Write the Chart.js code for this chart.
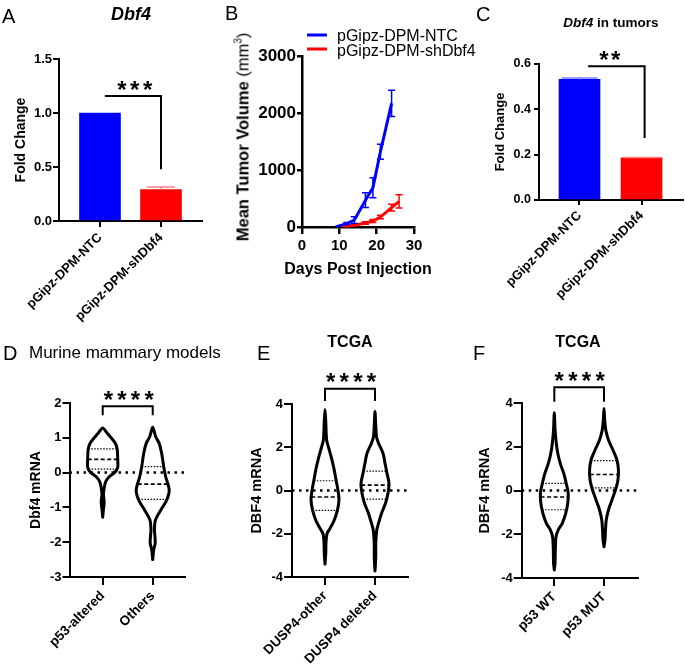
<!DOCTYPE html>
<html>
<head>
<meta charset="utf-8">
<script src="https://cdn.jsdelivr.net/npm/chart.js@4.4.1/dist/chart.umd.min.js"></script>
<style>
  body { margin: 0; background: #fff; width: 685px; height: 664px; position: relative; overflow: hidden;
         font-family: 'Liberation Sans', Arial, sans-serif; color: #000; }
  canvas { position: absolute; }
  .lbl { position: absolute; line-height: 1; white-space: nowrap; }
  .mid { transform: translateX(-50%); }
</style>
</head>
<body>
<canvas id="chartA" width="220" height="330" style="left:0;top:0"></canvas>
<canvas id="chartB" width="290" height="300" style="left:220px;top:0"></canvas>
<canvas id="chartC" width="195" height="330" style="left:490px;top:0"></canvas>
<canvas id="chartD" width="225" height="334" style="left:0;top:330px"></canvas>
<canvas id="chartE" width="225" height="334" style="left:230px;top:330px"></canvas>
<canvas id="chartF" width="230" height="334" style="left:455px;top:330px"></canvas>

<div class="lbl" style="left:2px;top:6px;font-size:20px">A</div>
<div class="lbl" style="left:225px;top:3px;font-size:20px">B</div>
<div class="lbl" style="left:476px;top:4px;font-size:20px">C</div>
<div class="lbl" style="left:3px;top:343px;font-size:20px">D</div>
<div class="lbl" style="left:257px;top:343px;font-size:20px">E</div>
<div class="lbl" style="left:473px;top:343px;font-size:20px">F</div>

<div class="lbl mid" style="left:131px;top:5px;font-size:18px;font-weight:bold;font-style:italic">Dbf4</div>
<div class="lbl mid" style="left:611px;top:15.5px;font-size:13.5px;font-weight:bold"><i>Dbf4</i> in tumors</div>
<div class="lbl" style="left:29px;top:343.5px;font-size:17px">Murine mammary models</div>
<div class="lbl mid" style="left:350px;top:333.5px;font-size:16px;font-weight:bold">TCGA</div>
<div class="lbl mid" style="left:578px;top:333.5px;font-size:16px;font-weight:bold">TCGA</div>
<div class="lbl" style="left:242px;top:137px;font-size:16.5px;transform:translate(-50%,-50%) rotate(-90deg)"><b>Mean Tumor Volume</b> (mm<sup style="font-size:10px">3</sup>)</div>
<div class="lbl mid" style="left:358px;top:261px;font-size:16px;font-weight:bold">Days Post Injection</div>

<script>
const SANS = "'Liberation Sans', Arial, sans-serif"
Chart.defaults.font.family = SANS
Chart.defaults.color = '#000'

// ---- A / C : qPCR fold change ----
const cellLines = ['pGipz-DPM-NTC', 'pGipz-DPM-shDbf4']
const dbf4Fold = [1.0, 0.29]
const dbf4FoldErr = [0, 0.025]
const foldTicksA = [0, 0.5, 1.0, 1.5]
const tumorFold = [0.532, 0.186]
const tumorFoldErr = [0.006, 0.002]
const foldTicksC = [0, 0.2, 0.4, 0.6]

// ---- B : tumor growth ----
const ntcDays = [9, 12, 14, 17, 19, 21, 24]
const ntcVolume = [0, 60, 120, 470, 690, 1320, 2170]
const ntcSem = [0, 20, 60, 130, 175, 130, 230]
const shDays = [10, 12, 14, 17, 19, 21, 24, 26]
const shVolume = [0, 10, 30, 70, 105, 175, 340, 450]
const shSem = [0, 5, 10, 20, 25, 30, 60, 115]
const volumeTicks = [0, 1000, 2000, 3000]
const dayTicks = [0, 10, 20, 30]

// ---- D : murine models (violin profile: level -> half width) ----
const murineGroups = ['p53-altered', 'Others']
const altLevels = [-1.28, -1.05, -0.85, -0.6, -0.4, -0.26, -0.12, 0, 0.15, 0.4, 0.68, 0.85, 1.0, 1.15, 1.28]
const altWidths = [0, 0.015, 0.03, 0.015, 0.035, 0.06, 0.13, 0.24, 0.3, 0.3, 0.29, 0.25, 0.17, 0.08, 0]
const altQuart = [0.1, 0.38, 0.68]
const othLevels = [-2.5, -2.22, -2.03, -1.84, -1.65, -1.36, -1.08, -0.79, -0.5, -0.12, 0.17, 0.55, 0.84, 1.03, 1.3]
const othWidths = [0, 0.02, 0.05, 0.045, 0.035, 0.055, 0.16, 0.28, 0.33, 0.26, 0.22, 0.18, 0.13, 0.06, 0]
const othQuart = [-0.77, -0.33, 0.17]
const murineTicks = [-3, -2, -1, 0, 1, 2]

// ---- E : TCGA DUSP4 ----
const duspGroups = ['DUSP4-other', 'DUSP4 deleted']
const dOtherLevels = [-3.4, -2.9, -2.4, -2.0, -1.75, -1.4, -0.9, -0.4, 0, 0.5, 1.0, 1.5, 2.0, 2.3, 2.6, 3.2, 3.75]
const dOtherWidths = [0, 0.015, 0.02, 0.04, 0.1, 0.18, 0.25, 0.28, 0.26, 0.22, 0.18, 0.13, 0.07, 0.035, 0.025, 0.015, 0]
const dOtherQuart = [-0.92, -0.3, 0.45]
const dDelLevels = [-3.72, -3.07, -2.45, -1.83, -1.52, -1.06, -0.59, -0.13, 0.33, 0.8, 1.26, 1.72, 2.19, 2.49, 3.0, 3.65]
const dDelWidths = [0, 0.015, 0.015, 0.035, 0.07, 0.13, 0.21, 0.26, 0.28, 0.24, 0.2, 0.16, 0.07, 0.03, 0.015, 0]
const dDelQuart = [-0.4, 0.25, 0.9]

// ---- F : TCGA p53 ----
const p53Groups = ['p53 WT', 'p53 MUT']
const wtLevels = [-3.63, -3.33, -2.72, -2.11, -1.8, -1.5, -1.04, -0.59, -0.13, 0.33, 0.78, 1.24, 1.7, 2.16, 2.8, 3.55]
const wtWidths = [0, 0.015, 0.02, 0.035, 0.08, 0.16, 0.23, 0.27, 0.28, 0.24, 0.19, 0.12, 0.07, 0.04, 0.015, 0]
const wtQuart = [-0.88, -0.3, 0.33]
const mutLevels = [-2.57, -2.26, -1.8, -1.35, -0.89, -0.43, 0.02, 0.48, 0.94, 1.4, 1.85, 2.31, 2.77, 3.2, 3.75]
const mutWidths = [0, 0.02, 0.03, 0.045, 0.09, 0.16, 0.23, 0.28, 0.29, 0.26, 0.18, 0.09, 0.035, 0.015, 0]
const mutQuart = [0.12, 0.73, 1.37]
const tcgaTicks = [-4, -2, 0, 2, 4]

// error bars + significance bracket
const extras = {
  id: 'extras',
  afterDatasetsDraw(chart, args, opts) {
    const { ctx, scales: { x, y } } = chart
    ctx.save()
    chart.data.datasets.forEach(ds => {
      if (!ds.errors) return
      ctx.lineWidth = opts.errorWidth || 1.5
      ds.data.forEach((p, i) => {
        const e = ds.errors[i]
        if (!e) return
        ctx.strokeStyle = Array.isArray(ds.errorColor) ? ds.errorColor[i] : ds.errorColor
        const px = x.getPixelForValue(p.x)
        const top = y.getPixelForValue(p.y + e)
        const bot = y.getPixelForValue(ds.errorUpOnly ? p.y : p.y - e)
        const cap = opts.cap || 3.5
        ctx.beginPath()
        ctx.moveTo(px, bot)
        ctx.lineTo(px, top)
        ctx.moveTo(px - cap, top)
        ctx.lineTo(px + cap, top)
        if (!ds.errorUpOnly) {
          ctx.moveTo(px - cap, bot)
          ctx.lineTo(px + cap, bot)
        }
        ctx.stroke()
      })
    })
    const b = opts.bracket
    if (b) {
      const x1 = x.getPixelForValue(b.x1)
      const x2 = x.getPixelForValue(b.x2)
      const yt = y.getPixelForValue(b.top)
      ctx.strokeStyle = '#000'
      ctx.lineWidth = 2
      ctx.beginPath()
      ctx.moveTo(x1, y.getPixelForValue(b.drop1))
      ctx.lineTo(x1, yt)
      ctx.lineTo(x2, yt)
      ctx.lineTo(x2, y.getPixelForValue(b.drop2))
      ctx.stroke()
      // asterisks, one glyph each
      ctx.font = 'bold 24px ' + SANS
      ctx.fillStyle = '#000'
      ctx.textAlign = 'center'
      ctx.textBaseline = 'alphabetic'
      const cx = x.getPixelForValue(b.textX)
      for (let i = 0; i < b.stars; i++) {
        ctx.fillText('*', cx + (i - (b.stars - 1) / 2) * b.pitch, yt + 1.5)
      }
    }
    ctx.restore()
  }
}

const lineLegend = {
  id: 'lineLegend',
  afterDraw(chart, args, o) {
    const { ctx } = chart
    ctx.save()
    chart.data.datasets.forEach((ds, i) => {
      ctx.strokeStyle = ds.borderColor
      ctx.lineWidth = 3
      ctx.beginPath()
      ctx.moveTo(o.x, o.lineY[i])
      ctx.lineTo(o.x + 20, o.lineY[i])
      ctx.stroke()
      ctx.fillStyle = '#000'
      ctx.font = '16px ' + SANS
      ctx.fillText(ds.label, o.x + 30, o.textY[i])
    })
    ctx.restore()
  }
}

function yAxis(o) {
  return {
    min: o.ticks[0],
    max: o.ticks[o.ticks.length - 1],
    border: { color: '#000', width: o.lw || 2 },
    grid: { drawOnChartArea: false, color: '#000', lineWidth: o.lw || 2, tickLength: o.tick },
    afterBuildTicks: s => { s.ticks = o.ticks.map(v => ({ value: v })) },
    ticks: { padding: o.pad, font: { size: o.size, weight: 'bold' }, callback: o.fmt || (v => String(v)) },
    title: o.title
      ? { display: true, text: o.title, font: { size: o.titleSize, weight: 'bold' }, padding: { top: o.titlePad, bottom: 0 } }
      : { display: false },
    afterFit: s => { s.width = o.width }
  }
}

function xCats(labels, o) {
  return {
    type: 'linear',
    min: o.min,
    max: o.max,
    offset: false,
    border: { color: '#000', width: 2 },
    grid: { drawOnChartArea: false, color: '#000', lineWidth: 2, tickLength: o.tick, offset: false },
    afterBuildTicks: s => { s.ticks = labels.map((l, i) => ({ value: i })) },
    ticks: { autoSkip: false, minRotation: 45, maxRotation: 45, padding: 3, font: { size: o.size, weight: 'bold' }, callback: v => labels[v] },
    afterFit: s => { s.height = o.height }
  }
}

function barChart(id, values, errs, o) {
  return new Chart(document.getElementById(id), {
    type: 'bar',
    data: {
      datasets: [{
        data: values.map((v, i) => ({ x: i, y: v })),
        backgroundColor: ['#0000ff', '#ff0000'],
        barThickness: 41,
        errors: errs,
        errorUpOnly: true,
        errorColor: ['#7f7fff', '#ff8080']
      }]
    },
    options: {
      responsive: false,
      animation: false,
      layout: { padding: { left: 0, top: o.top, right: o.right, bottom: 0 } },
      plugins: { legend: { display: false }, tooltip: { enabled: false }, extras: { bracket: o.bracket, cap: o.cap, errorWidth: 1.5 } },
      scales: { x: xCats(cellLines, o.x), y: yAxis(o.y) }
    },
    plugins: [extras]
  })
}

function outline(c, levels, widths) {
  const right = levels.map((v, i) => ({ x: c + widths[i], y: v }))
  const left = levels.map((v, i) => ({ x: c - widths[i], y: v })).reverse()
  return right.concat(left.slice(1))
}

function widthAt(levels, widths, v) {
  for (let i = 1; i < levels.length; i++) {
    if (v <= levels[i]) {
      const t = (v - levels[i - 1]) / (levels[i] - levels[i - 1])
      return widths[i - 1] + t * (widths[i] - widths[i - 1])
    }
  }
  return 0
}

function violinChart(id, labels, groups, o) {
  const datasets = [{
    data: [{ x: o.x.min, y: 0 }, { x: o.x.max, y: 0 }],
    borderColor: '#000', borderWidth: 2.5, borderDash: [2.5, 4.5]
  }]
  groups.forEach((g, c) => {
    datasets.push({
      data: outline(c, g.levels, g.widths),
      borderColor: '#000', borderWidth: 3, tension: 0.3,
      borderJoinStyle: 'round', borderCapStyle: 'round'
    })
    g.quart.forEach((q, k) => {
      const w = widthAt(g.levels, g.widths, q)
      datasets.push({
        data: [{ x: c - w, y: q }, { x: c + w, y: q }],
        borderColor: '#000',
        borderWidth: k === 1 ? 1.6 : 1.2,
        borderDash: k === 1 ? [4, 2.5] : [1.5, 1.5]
      })
    })
  })
  return new Chart(document.getElementById(id), {
    type: 'line',
    data: { datasets },
    options: {
      responsive: false,
      animation: false,
      elements: { point: { radius: 0 }, line: { fill: false } },
      layout: { padding: { left: 0, top: o.top, right: o.right, bottom: 0 } },
      plugins: { legend: { display: false }, tooltip: { enabled: false }, extras: { bracket: o.bracket } },
      scales: { x: xCats(labels, o.x), y: yAxis(o.y) }
    },
    plugins: [extras]
  })
}

const oneDec = v => v.toFixed(1)

// A
barChart('chartA', dbf4Fold, dbf4FoldErr, {
  top: 59, right: 18, cap: 14,
  x: { min: -0.672, max: 1.672, tick: 6, size: 13, height: 109 },
  y: { ticks: foldTicksA, width: 59, tick: 6, pad: 1, size: 13, fmt: oneDec, title: 'Fold Change', titleSize: 14, titlePad: 12.3 },
  bracket: { x1: 0.08, x2: 1.0, top: 1.157, drop1: 1.157, drop2: 0.48, stars: 3, pitch: 12.8, textX: 0.57 }
})

// C
barChart('chartC', tumorFold, tumorFoldErr, {
  top: 64, right: 2, cap: 18,
  x: { min: -0.653, max: 1.669, tick: 5, size: 13, height: 130 },
  y: { ticks: foldTicksC, width: 49, tick: 5, pad: 3, size: 12.5, fmt: oneDec, title: 'Fold Change', titleSize: 13, titlePad: 2.7 },
  bracket: { x1: 0.14, x2: 1.05, top: 0.59, drop1: 0.59, drop2: 0.273, stars: 2, pitch: 11.7, textX: 0.49 }
})

// B
new Chart(document.getElementById('chartB'), {
  type: 'line',
  data: {
    datasets: [
      { label: 'pGipz-DPM-NTC', data: ntcDays.map((d, i) => ({ x: d, y: ntcVolume[i] })), borderColor: '#0000ff', borderWidth: 3, errors: ntcSem, errorColor: '#0000ff' },
      { label: 'pGipz-DPM-shDbf4', data: shDays.map((d, i) => ({ x: d, y: shVolume[i] })), borderColor: '#ff0000', borderWidth: 3, errors: shSem, errorColor: '#ff0000' }
    ]
  },
  options: {
    responsive: false,
    animation: false,
    elements: { point: { radius: 0 } },
    layout: { padding: { left: 0, top: 56, right: 96, bottom: 0 } },
    plugins: {
      legend: { display: false },
      tooltip: { enabled: false },
      extras: { cap: 3.5, errorWidth: 1.5 },
      lineLegend: { x: 87, lineY: [35, 49], textY: [41, 56] }
    },
    scales: {
      x: {
        type: 'linear',
        min: dayTicks[0],
        max: dayTicks[dayTicks.length - 1],
        border: { color: '#000', width: 2.5 },
        grid: { drawOnChartArea: false, color: '#000', lineWidth: 2.5, tickLength: 7 },
        afterBuildTicks: s => { s.ticks = dayTicks.map(v => ({ value: v })) },
        ticks: { padding: 3, font: { size: 15, weight: 'bold' } },
        afterFit: s => { s.height = 73 }
      },
      y: yAxis({ ticks: volumeTicks, width: 82, tick: 5, pad: 1, size: 17, lw: 2.5 })
    }
  },
  plugins: [extras, lineLegend]
})

// D
violinChart('chartD', murineGroups, [
  { levels: altLevels, widths: altWidths, quart: altQuart },
  { levels: othLevels, widths: othWidths, quart: othQuart }
], {
  top: 73, right: 40,
  x: { min: -0.664, max: 1.646, tick: 8, size: 13.5, height: 87 },
  y: { ticks: murineTicks, width: 69.5, tick: 7, pad: 1, size: 13, title: 'Dbf4 mRNA', titleSize: 14, titlePad: 27.8 },
  bracket: { x1: 0, x2: 1, top: 1.91, drop1: 1.65, drop2: 1.65, stars: 4, pitch: 13.6, textX: 0.52 }
})

// E
violinChart('chartE', duspGroups, [
  { levels: dOtherLevels, widths: dOtherWidths, quart: dOtherQuart },
  { levels: dDelLevels, widths: dDelWidths, quart: dDelQuart }
], {
  top: 74, right: 47,
  x: { min: -0.66, max: 1.66, tick: 8, size: 13.5, height: 87 },
  y: { ticks: tcgaTicks, width: 62, tick: 8, pad: 1, size: 13, title: 'DBF4 mRNA', titleSize: 14.5, titlePad: 18 },
  bracket: { x1: 0, x2: 1, top: 4.70, drop1: 4.14, drop2: 4.14, stars: 4, pitch: 13.6, textX: 0.52 }
})

// F
violinChart('chartF', p53Groups, [
  { levels: wtLevels, widths: wtWidths, quart: wtQuart },
  { levels: mutLevels, widths: mutWidths, quart: mutQuart }
], {
  top: 73, right: 47.3,
  x: { min: -0.656, max: 1.678, tick: 8, size: 13.5, height: 86 },
  y: { ticks: tcgaTicks, width: 66.7, tick: 8, pad: 1, size: 13, title: 'DBF4 mRNA', titleSize: 14.5, titlePad: 21.7 },
  bracket: { x1: 0, x2: 1, top: 4.72, drop1: 4.06, drop2: 4.06, stars: 4, pitch: 13.6, textX: 0.51 }
})
</script>
</body>
</html>
